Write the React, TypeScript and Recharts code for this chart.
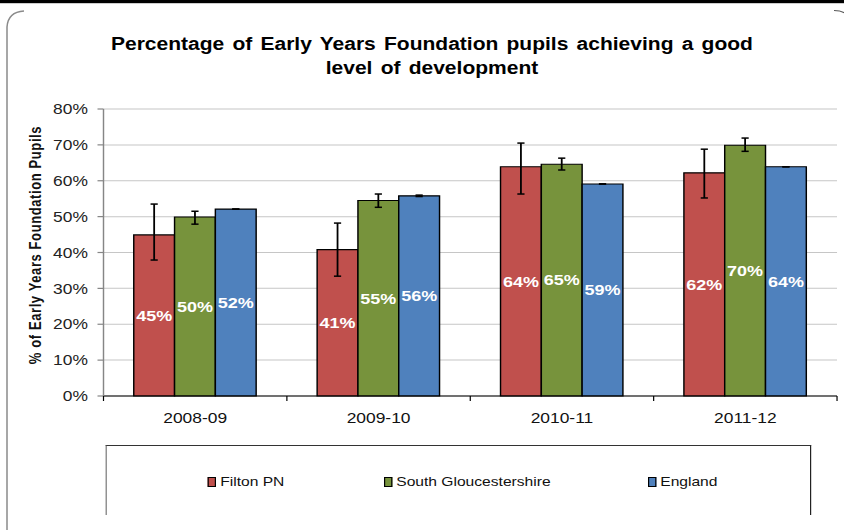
import React from 'react';
import { BarChart, Bar, XAxis, YAxis, CartesianGrid, ErrorBar, LabelList, Legend } from 'recharts';

// ---- data ----
const categories = ['2008-09', '2009-10', '2010-11', '2011-12'];
const seriesNames = ['Filton PN', 'South Gloucestershire', 'England'];
const filton = [44.9, 40.8, 63.9, 62.2];
const filtonLow = [37.9, 33.4, 56.3, 55.2];
const filtonHigh = [53.5, 48.2, 70.5, 68.8];
const southGlos = [49.9, 54.5, 64.6, 69.9];
const southGlosLow = [47.9, 52.6, 63.0, 68.2];
const southGlosHigh = [51.5, 56.3, 66.3, 71.9];
const england = [52.1, 55.8, 59.1, 63.9];
const englandLow = [52.1, 55.6, 59.1, 63.9];
const englandHigh = [52.1, 56.0, 59.1, 63.9];
const yTicks = [0, 10, 20, 30, 40, 50, 60, 70, 80];
const titleLines = ['Percentage of Early Years Foundation pupils achieving a good', 'level of development'];
const yAxisTitle = '% of Early Years Foundation Pupils';

const colors = ['#C0504D', '#77933C', '#4F81BD'];

const data = categories.map((c, i) => ({
  category: c,
  filton: filton[i],
  filtonErr: [filton[i] - filtonLow[i], filtonHigh[i] - filton[i]],
  southGlos: southGlos[i],
  southGlosErr: [southGlos[i] - southGlosLow[i], southGlosHigh[i] - southGlos[i]],
  england: england[i],
  englandErr: [england[i] - englandLow[i], englandHigh[i] - england[i]],
}));

// ---- layout ----
const SX = 1.2;
const W = 844 / SX;
const H = 530;
const YAXIS_W = 60;
const MARGIN = { top: 109, right: 5.8, bottom: 104, left: 26.25 };
const PLOT_W = W - MARGIN.left - MARGIN.right - YAXIS_W;
const BAND = PLOT_W / categories.length;
const FONT = '"Liberation Sans", Arial, Helvetica, sans-serif';
const LEGEND_X = [84.2, 230.9, 450.9];

const XTick = (props: any) => {
  const { x, y, payload, index } = props;
  const half = BAND / 2;
  return (
    <g>
      <line x1={x - half} x2={x - half} y1={y} y2={y + 5} stroke="#000" strokeWidth={1} />
      {index === categories.length - 1 && (
        <line x1={x + half} x2={x + half} y1={y} y2={y + 5} stroke="#000" strokeWidth={1} />
      )}
      <text x={x} y={y + 27} textAnchor="middle" fill="#111" fontSize={14.5}>
        {payload.value}
      </text>
    </g>
  );
};

const LegendContent = (props: any) => {
  const payload = [...(props.payload || [])].sort(
    (a: any, b: any) => seriesNames.indexOf(a.value) - seriesNames.indexOf(b.value)
  );
  return (
    <div
      style={{
        position: 'relative',
        width: '100%',
        height: '100%',
        boxSizing: 'border-box',
        borderTop: '1px solid #333',
        borderLeft: '1px solid #777',
        borderRight: '1.6px solid #222',
      }}
    >
      {payload.map((e: any, i: number) => (
        <div
          key={e.value}
          style={{
            position: 'absolute',
            left: LEGEND_X[i],
            top: 28,
            height: 15,
            display: 'flex',
            alignItems: 'center',
            whiteSpace: 'nowrap',
          }}
        >
          <span
            style={{
              display: 'inline-block',
              width: 5,
              height: 8,
              background: e.color,
              border: '1px solid #000',
              marginRight: 3,
            }}
          />
          <span style={{ fontSize: 13, color: '#111', lineHeight: '15px' }}>{e.value}</span>
        </div>
      ))}
    </div>
  );
};

const labelFmt = (v: any) => `${Math.round(Number(v))}%`;

export default function App() {
  return (
    <div
      style={{
        position: 'absolute',
        left: 0,
        top: 0,
        width: 844,
        height: 530,
        overflow: 'hidden',
        background: '#fff',
        fontFamily: FONT,
      }}
    >
      <div
        style={{
          position: 'absolute',
          left: 0,
          top: 0,
          width: W,
          height: H,
          transform: `scaleX(${SX})`,
          transformOrigin: '0 0',
        }}
      >
        <BarChart
          width={W}
          height={H}
          data={data}
          margin={MARGIN}
          barCategoryGap="16.5%"
          barGap={0}
        >
          <CartesianGrid vertical={false} stroke="#c6c6c6" strokeWidth={1} />
          <XAxis
            dataKey="category"
            height={30}
            interval={0}
            axisLine={{ stroke: '#000', strokeWidth: 1.2 }}
            tickLine={false}
            tickSize={0}
            tickMargin={0}
            tick={(p: any) => <XTick {...p} />}
          />
          <YAxis
            width={YAXIS_W}
            domain={[0, 80]}
            ticks={yTicks}
            interval={0}
            tickFormatter={(v: number) => `${v}%`}
            axisLine={{ stroke: '#868686', strokeWidth: 1.2 }}
            tickLine={{ stroke: '#868686', strokeWidth: 1.2 }}
            tickSize={5}
            tickMargin={8}
            tick={{ fill: '#222', fontSize: 14.5 }}
          />
          <Legend
            verticalAlign="middle"
            align="center"
            layout="horizontal"
            content={(p: any) => <LegendContent {...p} />}
            wrapperStyle={{ left: 88.3, top: 445, width: 587.5, height: 70 }}
          />
          <Bar dataKey="filton" name={seriesNames[0]} fill={colors[0]} stroke="#000" strokeWidth={1.2} isAnimationActive={false}>
            <ErrorBar dataKey="filtonErr" width={3} stroke="#000" strokeWidth={1.5} />
            <LabelList dataKey="filton" position="center" formatter={labelFmt} fill="#fff" stroke="none" fontSize={15} fontWeight="bold" />
          </Bar>
          <Bar dataKey="southGlos" name={seriesNames[1]} fill={colors[1]} stroke="#000" strokeWidth={1.2} isAnimationActive={false}>
            <ErrorBar dataKey="southGlosErr" width={3} stroke="#000" strokeWidth={1.5} />
            <LabelList dataKey="southGlos" position="center" formatter={labelFmt} fill="#fff" stroke="none" fontSize={15} fontWeight="bold" />
          </Bar>
          <Bar dataKey="england" name={seriesNames[2]} fill={colors[2]} stroke="#000" strokeWidth={1.2} isAnimationActive={false}>
            <ErrorBar dataKey="englandErr" width={3} stroke="#000" strokeWidth={1.5} />
            <LabelList dataKey="england" position="center" formatter={labelFmt} fill="#fff" stroke="none" fontSize={15} fontWeight="bold" />
          </Bar>
        </BarChart>
        <div
          style={{
            position: 'absolute',
            left: 8.3,
            top: 31.5,
            width: W,
            textAlign: 'center',
            fontSize: 17.5,
            fontWeight: 'bold',
            lineHeight: '24px',
            wordSpacing: 2,
            color: '#000',
          }}
        >
          {titleLines.map((t) => (
            <div key={t}>{t}</div>
          ))}
        </div>
        <div
          style={{
            position: 'absolute',
            left: 29.6,
            top: 245,
            transform: 'translate(-50%, -50%) rotate(-90deg)',
            whiteSpace: 'nowrap',
            fontSize: 13,
            fontWeight: 'bold',
            letterSpacing: 0.6,
            color: '#111',
          }}
        >
          {yAxisTitle}
        </div>
      </div>
      <svg
        width={844}
        height={530}
        style={{ position: 'absolute', left: 0, top: 0, pointerEvents: 'none' }}
      >
        <rect x={0} y={0} width={844} height={3.2} fill="#000" />
        <path d="M 7 530 L 7 27 Q 8 12 24 11" fill="none" stroke="#8a8a8a" strokeWidth={1.5} />
        <path d="M 834 10.5 Q 842 10.5 846 14" fill="none" stroke="#555" strokeWidth={1.2} />
      </svg>
    </div>
  );
}
